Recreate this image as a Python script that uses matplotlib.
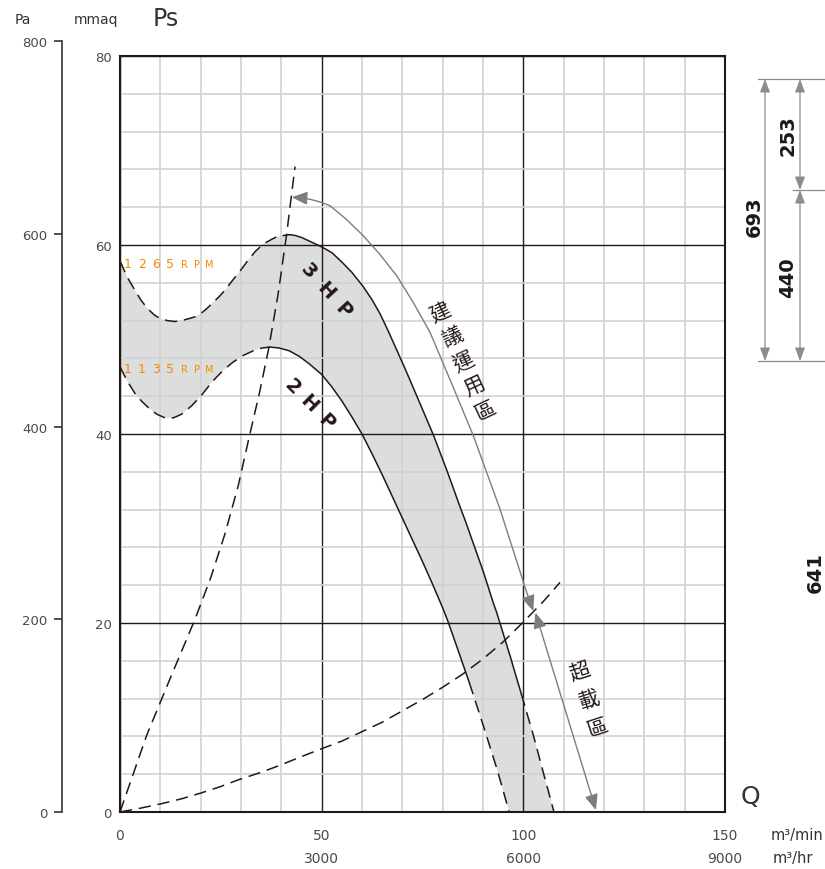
import matplotlib
matplotlib.use("Agg")
import matplotlib.pyplot as plt
from matplotlib.path import Path
from matplotlib.patches import FancyArrowPatch
from matplotlib.lines import Line2D
from matplotlib.ticker import MultipleLocator

# fan curves, Q in m3/min, Ps in mmaq
q_1265 = [0, 1.8, 3.7, 5.3, 7.0, 8.5, 10.0, 11.8, 13.6, 15.3, 17.0, 18.6, 20.2, 21.6, 23.0,
          24.5, 26.0, 27.8, 29.7, 31.6, 33.5, 35.5, 37.6, 39.0, 40.5]
p_1265 = [58.3, 56.6, 55.2, 54.1, 53.2, 52.6, 52.2, 52.0, 51.9, 52.0, 52.2, 52.4, 52.8, 53.3,
          53.9, 54.5, 55.2, 56.2, 57.2, 58.3, 59.3, 60.1, 60.6, 60.9, 61.0]
q_3hp = [40.5, 42.0, 43.5, 45.0, 46.5, 48.0, 50.0, 52.5, 55.0, 57.5, 60.3, 62.5, 64.5, 66.5,
         68.6, 70.8, 73.0, 75.3, 77.7, 79.3, 81.0, 82.7, 84.3, 85.8, 87.2, 88.7, 90.1, 91.3,
         92.5, 93.4, 94.2, 95.5, 96.8, 98.1, 99.5]
p_3hp = [61.0, 61.1, 61.0, 60.8, 60.5, 60.2, 59.8, 59.2, 58.2, 57.1, 55.6, 54.2, 52.7, 50.9,
         48.9, 46.8, 44.6, 42.3, 39.9, 38.1, 36.2, 34.2, 32.3, 30.6, 28.9, 27.1, 25.4, 23.8,
         22.2, 21.1, 20.0, 18.2, 16.4, 14.5, 12.5]
q_3hp_end = [99.5, 102.5, 105.0, 107.6]
p_3hp_end = [12.5, 8.1, 4.1, 0]

q_1135 = [0, 1.8, 3.7, 5.3, 7.0, 9.1, 11.2, 13.2, 15.3, 17.8, 20.2, 23.0, 25.5, 28.0, 30.5,
          33.0, 35.2, 37.2]
p_1135 = [47.1, 45.6, 44.3, 43.5, 42.8, 42.1, 41.7, 41.7, 42.1, 43.0, 44.1, 45.6, 46.7, 47.6,
          48.3, 48.8, 49.1, 49.2]
q_2hp = [37.2, 39.5, 42.0, 44.5, 47.0, 50.0, 52.5, 55.0, 57.5, 60.0, 62.5, 65.0, 67.5, 70.0,
         72.5, 75.0, 77.5, 80.0, 81.2, 82.6, 84.0, 85.3, 86.6]
p_2hp = [49.2, 49.1, 48.8, 48.2, 47.4, 46.3, 45.0, 43.5, 41.8, 40.0, 37.9, 35.7, 33.4, 31.1,
         28.8, 26.5, 24.1, 21.6, 20.3, 18.6, 16.9, 15.3, 13.7]
q_2hp_end = [86.6, 90.1, 93.5, 96.5]
p_2hp_end = [13.7, 9.1, 4.5, 0]

# system resistance curves
q_sys1 = [0, 6.6, 12.5, 18.6, 22.5, 26.0, 29.3, 32.2, 34.6, 36.8, 39.2, 41.3, 43.4]
p_sys1 = [0, 8.1, 14.2, 20.4, 24.8, 29.4, 34.5, 40.0, 44.4, 48.9, 54.8, 61.1, 68.3]
q_sys2 = [0, 5, 10, 15.3, 20, 25, 29.3, 35, 40, 44.6, 50, 55, 60, 65, 70, 75, 80, 85, 90, 95,
          100, 105, 109.1]
p_sys2 = [0, 0.4, 0.85, 1.4, 2.0, 2.7, 3.4, 4.2, 5.0, 5.8, 6.7, 7.5, 8.5, 9.5, 10.7, 11.9,
          13.2, 14.6, 16.2, 18.0, 20.1, 22.3, 24.3]

# operating range arrows
q_arrow1 = [42.57, 44.88, 47.11, 49.59, 52.07, 56.03, 60.32, 64.46, 68.60, 72.64, 76.86,
            82.07, 87.60, 94.21, 98.18, 100.83, 102.47]
p_arrow1 = [65.05, 64.99, 64.84, 64.55, 64.16, 62.75, 60.98, 58.99, 56.75, 53.97, 50.76,
            45.50, 39.82, 32.06, 26.77, 23.25, 21.27]
q_arrow2 = [103.0, 118.0]
p_arrow2 = [21.1, 0.2]

x_ticks = [0, 50, 100, 150]
y_ticks = [0, 20, 40, 60, 80]
pa_ticks = [0, 200, 400, 600, 800]
hr_ticks = [3000, 6000, 9000]
PA_PER_MMAQ = 9.80665

BLACK = "#231815"
GREY_TXT = "#4a4a4a"
ORANGE = "#f08c00"
ARROW = "#7d7d7d"
narrow = ["Liberation Sans Narrow", "DejaVu Sans Condensed", "DejaVu Sans"]
cjk = ["Noto Sans CJK TC", "DejaVu Sans"]

W, H = 825, 870
fig = plt.figure(figsize=(W / 100, H / 100), dpi=100)

ax_l, ax_t, ax_r, ax_b = 120, 57, 725, 813
ax = fig.add_axes([ax_l / W, 1 - ax_b / H, (ax_r - ax_l) / W, (ax_b - ax_t) / H])
ax.set_xlim(0, 150)
ax.set_ylim(0, 80)

# grey band between the two motor curves
upper_q = q_1265 + q_3hp[1:] + q_3hp_end[1:]
upper_p = p_1265 + p_3hp[1:] + p_3hp_end[1:]
lower_q = q_1135 + q_2hp[1:] + q_2hp_end[1:]
lower_p = p_1135 + p_2hp[1:] + p_2hp_end[1:]
ax.fill(upper_q + lower_q[::-1], upper_p + lower_p[::-1], color="#dcdddd", lw=0, zorder=1)

# grid
ax.set_xticks(x_ticks)
ax.set_yticks(y_ticks)
ax.xaxis.set_minor_locator(MultipleLocator(10))
ax.yaxis.set_minor_locator(MultipleLocator(4))
ax.grid(which="minor", color="#d2d2d2", lw=1.2)
ax.grid(which="major", color=BLACK, lw=1.0)
for s in ax.spines.values():
    s.set_color(BLACK)
    s.set_linewidth(1.5)
    s.set_zorder(5)

dash = dict(color=BLACK, lw=1.1, dashes=(8, 4.5), zorder=3)
solid = dict(color=BLACK, lw=1.1, zorder=3)
ax.plot(q_1265, p_1265, **dash)
ax.plot(q_3hp, p_3hp, **solid)
ax.plot(q_3hp_end, p_3hp_end, **dash)
ax.plot(q_1135, p_1135, **dash)
ax.plot(q_2hp, p_2hp, **solid)
ax.plot(q_2hp_end, p_2hp_end, **dash)
ax.plot(q_sys1, p_sys1, clip_on=False, **dash)
ax.plot(q_sys2, p_sys2, clip_on=False, **dash)

# range arrows
for qs, ps in [(q_arrow1, p_arrow1), (q_arrow2, p_arrow2)]:
    codes = [Path.MOVETO] + [Path.LINETO] * (len(qs) - 1)
    arr = FancyArrowPatch(path=Path(list(zip(qs, ps)), codes),
                          arrowstyle="<|-|>,head_length=0.95,head_width=0.4",
                          mutation_scale=10, color=ARROW, lw=1.0,
                          transform=ax.transData, clip_on=False, zorder=4)
    ax.add_patch(arr)


def place_chars(text, start, end, rot, **kw):
    n = len(text)
    for i, ch in enumerate(text):
        t = i / (n - 1)
        ax.text(start[0] + t * (end[0] - start[0]), start[1] + t * (end[1] - start[1]), ch,
                rotation=rot, rotation_mode="anchor", ha="center", va="center", **kw)


place_chars("1265", (1.9, 58.0), (12.4, 58.0), 0, color=ORANGE, fontsize=9, zorder=6)
place_chars("RPM", (15.9, 57.95), (22.1, 57.95), 0, color=ORANGE, fontsize=7, zorder=6)
place_chars("1135", (1.9, 46.9), (12.4, 46.9), 0, color=ORANGE, fontsize=9, zorder=6)
place_chars("RPM", (15.9, 46.85), (22.1, 46.85), 0, color=ORANGE, fontsize=7, zorder=6)
place_chars("3HP", (46.7, 57.3), (55.4, 53.2), -47, color=BLACK, fontsize=14,
            fontweight="bold", zorder=6)
place_chars("2HP", (42.6, 45.1), (51.2, 41.4), -45, color=BLACK, fontsize=14,
            fontweight="bold", zorder=6)

ax.text(85.1, 47.75, "建\n議\n運\n用\n區", rotation=25, ha="center", va="center",
        multialignment="center", linespacing=1.28, fontsize=15, color=BLACK,
        family=cjk, zorder=6)
ax.text(116.3, 11.95, "超\n載\n區", rotation=18, ha="center", va="center",
        multialignment="center", linespacing=1.4, fontsize=15, color=BLACK,
        family=cjk, zorder=6)

# tick labels
ax.set_xticklabels([str(v) for v in x_ticks])
ax.set_yticklabels([str(v) for v in y_ticks])
ax.tick_params(which="both", length=0)
ax.tick_params(axis="x", pad=11.5, labelsize=10, labelcolor=GREY_TXT)
ax.tick_params(axis="y", pad=5.8, labelsize=9.5, labelcolor=GREY_TXT)

sec = ax.secondary_xaxis("bottom", functions=(lambda q: q * 60, lambda h: h / 60))
sec.set_xticks(hr_ticks)
sec.set_xticklabels([str(v) for v in hr_ticks])
sec.tick_params(length=0, pad=28, labelsize=10, labelcolor=GREY_TXT)
sec.spines["bottom"].set_visible(False)

# Pa scale on the far left
ax_h = (ax_b - ax_t) / H
pa_h = ax_h * (pa_ticks[-1] / PA_PER_MMAQ) / 80
ax_pa = fig.add_axes([62 / W, 1 - ax_b / H, 0.0001, pa_h])
ax_pa.set_ylim(0, pa_ticks[-1])
ax_pa.set_yticks(pa_ticks)
ax_pa.set_xticks([])
ax_pa.patch.set_visible(False)
for k in ["right", "top", "bottom"]:
    ax_pa.spines[k].set_visible(False)
ax_pa.spines["left"].set_color("#333333")
ax_pa.spines["left"].set_linewidth(1.2)
ax_pa.tick_params(axis="y", direction="out", length=6, width=1.2, color="#333333",
                  pad=4.3, labelsize=9.5, labelcolor=GREY_TXT)

# axis captions
fig.text(23 / W, 1 - 20 / H, "Pa", ha="center", va="center", fontsize=10,
         color="#333333", family=narrow)
fig.text(96 / W, 1 - 20 / H, "mmaq", ha="center", va="center", fontsize=10,
         color="#333333", family=narrow)
fig.text(166 / W, 1 - 19 / H, "Ps", ha="center", va="center", fontsize=17, color="#333333")
fig.text(750 / W, 1 - 797 / H, "Q", ha="center", va="center", fontsize=18, color="#333333",
         family=narrow)
fig.text(771 / W, 1 - 836 / H, "m³/min", ha="left", va="center", fontsize=10.5,
         color="#333333", family=narrow)
fig.text(773 / W, 1 - 859 / H, "m³/hr", ha="left", va="center", fontsize=10.5,
         color="#333333", family=narrow)

# dimension marks on the right
dim_col = "#8c8c8c"
for x0, x1, y in [(758, 825, 80), (793, 825, 191), (758, 825, 362)]:
    fig.add_artist(Line2D([x0 / W, x1 / W], [1 - y / H, 1 - y / H],
                          transform=fig.transFigure, color=dim_col, lw=0.9))
for x, y0, y1 in [(765, 80, 362), (800, 80, 191), (800, 191, 362)]:
    fig.add_artist(FancyArrowPatch((x / W, 1 - y0 / H), (x / W, 1 - y1 / H),
                                   transform=fig.transFigure,
                                   arrowstyle="<|-|>,head_length=0.8,head_width=0.3",
                                   mutation_scale=10, color=dim_col, lw=0.9,
                                   shrinkA=0, shrinkB=0))
for x, y, s in [(754, 217, "693"), (788, 136, "253"), (788, 278, "440"), (815, 573, "641")]:
    fig.text(x / W, 1 - y / H, s, rotation=90, ha="center", va="center", fontsize=14,
             fontweight="bold", color="#1a1a1a", family=narrow)

fig.savefig("out.png", dpi=100)
